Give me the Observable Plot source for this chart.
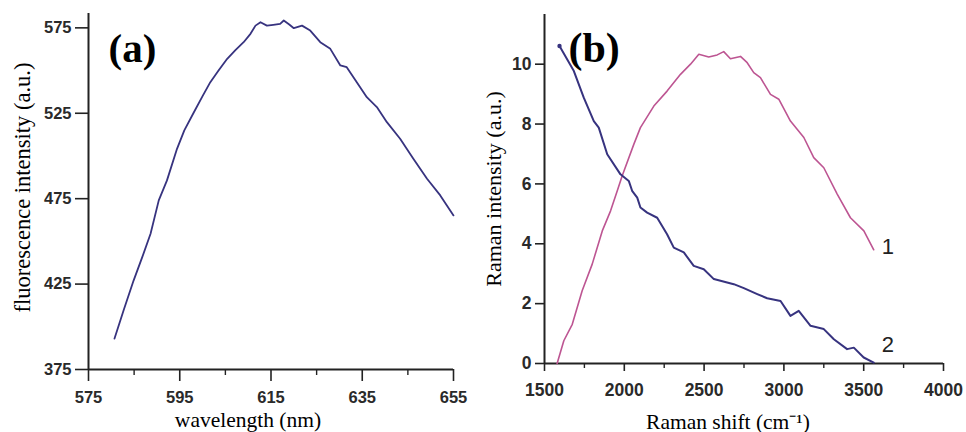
<!DOCTYPE html>
<html><head><meta charset="utf-8">
<script src="https://cdn.jsdelivr.net/npm/d3@7"></script>
<script src="https://cdn.jsdelivr.net/npm/@observablehq/plot@0.6"></script>
<style>
html,body{margin:0;padding:0;background:#fff;}
#wrap{position:relative;width:966px;height:432px;overflow:hidden;background:#fff;}
#wrap > svg{position:absolute;top:0;}
</style></head><body><div id="wrap"></div>
<script>
// ---- Panel (a): fluorescence spectrum ----
const wavelengthNm = [580.7, 582.7, 584.9, 586.8, 588.6, 590.4, 592.2, 594.4, 596.0, 598.1, 600.0, 601.7, 603.5, 605.4, 607.2, 609.0, 610.5, 611.6, 612.7, 614.1, 615.5, 617.0, 617.8, 619.0, 620.0, 621.8, 623.6, 625.8, 628.0, 630.2, 631.6, 633.8, 636.0, 638.2, 640.4, 643.3, 646.2, 649.2, 652.1, 655.0];
const fluorescence = [393.1, 409.7, 427.2, 440.9, 454.5, 474.0, 485.7, 504.2, 515.0, 525.6, 535.0, 543.2, 550.0, 556.9, 562.0, 566.6, 571.5, 576.3, 578.3, 576.3, 576.8, 577.3, 579.3, 577.0, 574.8, 576.3, 573.4, 566.6, 562.7, 553.0, 552.0, 543.2, 534.4, 528.6, 519.8, 510.1, 498.4, 486.7, 476.9, 465.2];

// ---- Panel (b): Raman spectra ----
const ramanShift1 = [1579, 1621, 1674, 1736, 1799, 1862, 1914, 1956, 1987, 2060, 2101, 2185, 2268, 2352, 2415, 2467, 2529, 2582, 2623, 2665, 2728, 2770, 2811, 2853, 2916, 2968, 3041, 3125, 3187, 3250, 3334, 3417, 3501, 3563];
const ramanIntensity1 = [0, 0.76, 1.31, 2.43, 3.32, 4.43, 5.10, 5.77, 6.27, 7.33, 7.88, 8.60, 9.10, 9.66, 10.00, 10.33, 10.24, 10.31, 10.42, 10.18, 10.26, 10.05, 9.72, 9.55, 8.99, 8.83, 8.10, 7.55, 6.88, 6.54, 5.66, 4.87, 4.43, 3.80];
const ramanShift2 = [1594, 1684, 1746, 1809, 1840, 1893, 1976, 2028, 2049, 2081, 2101, 2143, 2206, 2268, 2310, 2373, 2435, 2498, 2561, 2686, 2749, 2833, 2895, 2979, 3041, 3093, 3167, 3250, 3313, 3396, 3438, 3500, 3563];
const ramanIntensity2 = [10.61, 9.77, 8.88, 8.10, 7.88, 6.99, 6.32, 6.10, 5.77, 5.54, 5.21, 5.04, 4.87, 4.32, 3.87, 3.71, 3.26, 3.15, 2.82, 2.65, 2.52, 2.32, 2.18, 2.09, 1.59, 1.76, 1.26, 1.15, 0.81, 0.48, 0.53, 0.20, 0.03];

// ---- Ticks and labels ----
const ticksAx = [575, 595, 615, 635, 655];
const minorAx = [585, 605, 625, 645];
const ticksAy = [375, 425, 475, 525, 575];
const ticksBx = [1500, 2000, 2500, 3000, 3500, 4000];
const minorBx = [1750, 2250, 2750, 3250, 3750];
const ticksBy = [0, 2, 4, 6, 8, 10];
const panelLabels = ["(a)", "(b)"];
const curveLabels = ["1", "2"];
const titleAx = "wavelength (nm)";
const titleAy = "fluorescence intensity (a.u.)";
const titleBx = "Raman shift (cm\u207B\u00B9)";
const titleBy = "Raman intensity (a.u.)";

const dataA = wavelengthNm.map((w, i) => ({w, v: fluorescence[i]}));
const dataB1 = ramanShift1.map((s, i) => ({s, v: ramanIntensity1[i]}));
const dataB2 = ramanShift2.map((s, i) => ({s, v: ramanIntensity2[i]}));

const axisColor = "#222";
const sans = "'Liberation Sans', Arial, Helvetica, sans-serif";
const serif = "'Liberation Serif', 'Times New Roman', Times, serif";
const navy = "#37337f";
const pink = "#bd5592";
const plain = d => `${d}`;

const plotA = Plot.plot({
  width: 483, height: 432,
  marginLeft: 88, marginRight: 30, marginTop: 13, marginBottom: 63,
  style: {background: "transparent", color: axisColor, overflow: "visible"},
  x: {domain: [575, 655]},
  y: {domain: [375, 583.4]},
  marks: [
    Plot.axisY(ticksAy, {tickSize: 13, tickPadding: 4, strokeWidth: 1.6, tickFormat: plain, fontSize: 16.5, fontWeight: "bold", fontFamily: sans, fill: "#2a2a2a", label: null}),
    Plot.axisX(ticksAx, {tickSize: 12, tickPadding: 10, strokeWidth: 1.6, tickFormat: plain, fontSize: 16.5, fontWeight: "bold", fontFamily: sans, fill: "#2a2a2a", label: null}),
    Plot.axisX(minorAx, {tickSize: 6, strokeWidth: 1.4, fill: "none", label: null}),
    Plot.ruleY([375], {strokeWidth: 2}),
    Plot.ruleX([575], {strokeWidth: 2}),
    Plot.line(dataA, {x: "w", y: "v", stroke: navy, strokeWidth: 1.8}),
    Plot.text([panelLabels[0]], {frameAnchor: "top-left", textAnchor: "start", lineAnchor: "bottom", dx: 20, dy: 48, fontSize: 41, fontWeight: "bold", fontFamily: serif, fill: "#000"}),
    Plot.text([titleAx], {frameAnchor: "bottom", textAnchor: "middle", lineAnchor: "bottom", dx: -23, dy: 57, fontSize: 21.5, fontFamily: serif, fill: "#000"}),
    Plot.text([titleAy], {frameAnchor: "left", textAnchor: "middle", lineAnchor: "middle", rotate: -90, dx: -66, dy: -4, fontSize: 22.5, fontFamily: serif, fill: "#000"})
  ]
});

const plotB = Plot.plot({
  width: 483, height: 432,
  marginLeft: 61, marginRight: 23, marginTop: 14, marginBottom: 69,
  style: {background: "transparent", color: axisColor, overflow: "visible"},
  x: {domain: [1500, 4000]},
  y: {domain: [0, 11.66]},
  marks: [
    Plot.axisY(ticksBy, {tickSize: 9, tickPadding: 4, strokeWidth: 1.6, tickFormat: plain, fontSize: 17.5, fontWeight: "bold", fontFamily: sans, fill: "#2a2a2a", label: null}),
    Plot.axisX(ticksBx, {tickSize: 8, tickPadding: 12, strokeWidth: 1.6, tickFormat: plain, fontSize: 17.5, fontWeight: "bold", fontFamily: sans, fill: "#2a2a2a", label: null}),
    Plot.axisX(minorBx, {tickSize: 5, strokeWidth: 1.4, fill: "none", label: null}),
    Plot.ruleY([0], {strokeWidth: 2}),
    Plot.ruleX([1500], {strokeWidth: 2}),
    Plot.line(dataB1, {x: "s", y: "v", stroke: pink, strokeWidth: 1.6}),
    Plot.line(dataB2, {x: "s", y: "v", stroke: navy, strokeWidth: 2}),
    Plot.dot(dataB2, Plot.selectFirst({x: "s", y: "v", r: 2.2, fill: navy, stroke: null})),
    Plot.text(dataB1, Plot.selectLast({x: "s", y: "v", text: () => curveLabels[0], textAnchor: "start", lineAnchor: "middle", dx: 8, dy: -3, fontSize: 22, fontFamily: sans, fill: "#222"})),
    Plot.text(dataB2, Plot.selectLast({x: "s", y: "v", text: () => curveLabels[1], textAnchor: "start", lineAnchor: "middle", dx: 8, dy: -18, fontSize: 22, fontFamily: sans, fill: "#222"})),
    Plot.text([panelLabels[1]], {frameAnchor: "top-left", textAnchor: "start", lineAnchor: "bottom", dx: 24, dy: 47, fontSize: 42, fontWeight: "bold", fontFamily: serif, fill: "#000"}),
    Plot.text([titleBx], {frameAnchor: "bottom", textAnchor: "middle", lineAnchor: "bottom", dx: -16, dy: 65, fontSize: 21.5, fontFamily: serif, fill: "#000"}),
    Plot.text([titleBy], {frameAnchor: "left", textAnchor: "middle", lineAnchor: "middle", rotate: -90, dx: -51, dy: 0, fontSize: 22, fontFamily: serif, fill: "#000"})
  ]
});

const wrap = document.getElementById("wrap");
plotA.style.left = "0px";
plotB.style.left = "483px";
wrap.appendChild(plotA);
wrap.appendChild(plotB);
</script>
</body></html>
